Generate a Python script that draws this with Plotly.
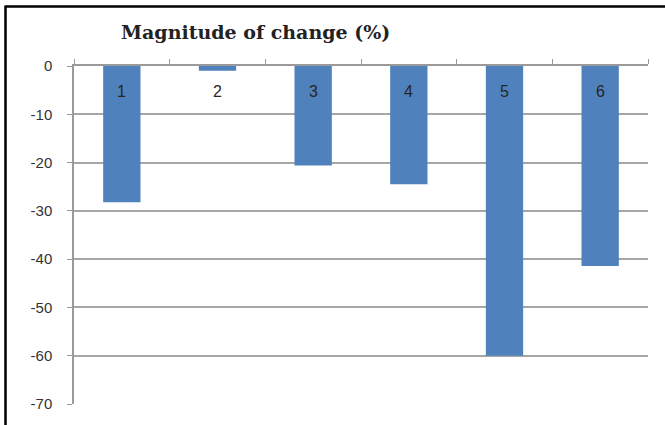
import plotly.graph_objects as go

categories = ["1", "2", "3", "4", "5", "6"]
change_pct = [-28.2, -1.0, -20.6, -24.5, -60.0, -41.4]
y_tick_values = [0, -10, -20, -30, -40, -50, -60, -70]
y_tick_labels = ["0", "-10", "-20", "-30", "-40", "-50", "-60", "-70"]

W, H = 665, 425
L, R, T, B = 74, 17, 66, 21
pw, ph = W - L - R, H - T - B

def px_to_paper_x(x):
    return (x - L) / pw

def px_to_paper_y(y):
    return (H - B - y) / ph

fig = go.Figure(
    go.Bar(
        x=categories,
        y=change_pct,
        marker=dict(color="#4F81BD", line=dict(width=0)),
    )
)

# category names sit just under the zero line, inside the bars
# (on a category axis an annotation's numeric x is the category index)
category_labels = [
    dict(
        text=c, x=i, y=0, xref="x", yref="y",
        yanchor="middle", yshift=-25, showarrow=False,
        font=dict(family="Liberation Sans, Arial, sans-serif", size=16, color="#262626"),
    )
    for i, c in enumerate(categories)
]

title = dict(
    text="<b>Magnitude of change (%)</b>",
    xref="paper", yref="paper",
    x=px_to_paper_x(255), y=px_to_paper_y(32),
    xanchor="center", yanchor="middle",
    showarrow=False,
    font=dict(family="DejaVu Serif, serif", size=19, color="#222222"),
)

fig.update_layout(
    width=W,
    height=H,
    margin=dict(l=L, r=R, t=T, b=B),
    paper_bgcolor="white",
    plot_bgcolor="white",
    bargap=0.61,
    showlegend=False,
    font=dict(family="Liberation Sans, Arial, sans-serif", color="#333333"),
    annotations=[title] + category_labels,
    shapes=[
        # frame lines along the top and left edges
        dict(type="line", xref="paper", yref="paper",
             x0=px_to_paper_x(5.5), x1=px_to_paper_x(670),
             y0=px_to_paper_y(6.5), y1=px_to_paper_y(6.5),
             line=dict(color="black", width=2.5)),
        dict(type="line", xref="paper", yref="paper",
             x0=px_to_paper_x(5.5), x1=px_to_paper_x(5.5),
             y0=px_to_paper_y(5.5), y1=px_to_paper_y(430),
             line=dict(color="black", width=2.5)),
    ],
)

fig.update_xaxes(
    type="category",
    range=[-0.5, len(categories) - 0.5],
    side="top",
    showticklabels=False,
    tickson="boundaries",
    ticks="outside",
    ticklen=5,
    tickcolor="#9a9a9a",
    showline=True,
    linecolor="#9a9a9a",
    linewidth=1.5,
    showgrid=False,
)

fig.update_yaxes(
    range=[-70, 0],
    tickvals=y_tick_values,
    ticktext=y_tick_labels,
    ticks="outside",
    ticklen=5,
    tickcolor="#9a9a9a",
    showline=True,
    linecolor="#9a9a9a",
    linewidth=1.5,
    showgrid=True,
    gridcolor="#a6a6a6",
    gridwidth=1.5,
    zeroline=False,
    tickfont=dict(size=15, color="#333333"),
    ticklabelstandoff=12,
)

fig.write_html("out.html")
